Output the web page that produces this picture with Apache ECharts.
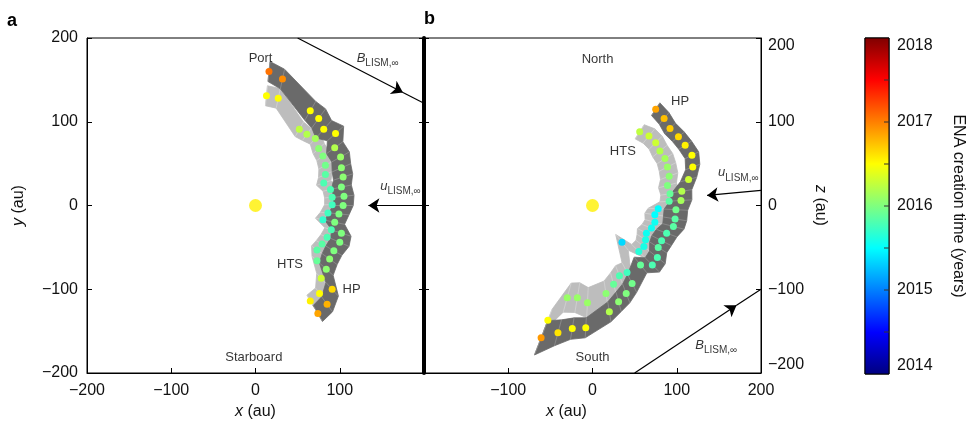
<!DOCTYPE html>
<html><head><meta charset="utf-8">
<script src="https://cdn.jsdelivr.net/npm/echarts@6/dist/echarts.min.js"></script>
<style>html,body{margin:0;padding:0;background:#fff}#c{width:967px;height:427px}</style>
</head><body><div id="c"></div>
<script>
// ---------- data (au, years) ----------
// Panel a (x-y plane)
const aHP_x  = [16,32,65,75,81,95,94,101,102,104,102,105,104,99,94,102,100,93,88,84,91,85,74];
const aHP_y  = [160,151,113,104,91,86,69,58,45,34,22,11,0,-10,-20,-33,-44,-54,-64,-76,-100,-118,-129];
const aHP_t  = [2017.05,2016.95,2016.5,2016.5,2016.5,2016.5,2016.2,2016.1,2016.05,2016.05,2016.0,2016.0,2016.0,2016.0,2016.0,2016.0,2016.0,2016.0,2016.05,2016.05,2016.65,2016.8,2016.85];
const aHP_w  = [12,12,13,14,14,13,12,12,12,12,12,12,12,12,12,12,12,11,11,11,11,11,11];
const aHTS_x = [13,27,52,61,71,75,80,83,83,81,89,91,91,86,80,90,85,79,73,73,78,76,65];
const aHTS_y = [131,128,91,85,80,68,59,48,37,27,19,10,1,-9,-17,-29,-38,-46,-53,-66,-87,-105,-114];
const aHTS_t = [2016.5,2016.5,2016.25,2016.2,2016.15,2016.05,2016.0,2015.95,2015.85,2015.8,2015.8,2015.8,2015.75,2015.75,2015.7,2015.8,2015.8,2015.85,2015.85,2015.9,2016.3,2016.5,2016.55];
const aHTS_w = [12,12,10,9,9,9,9,9,9,9,9,9,9,9,9,8,8,8,8,8,8,8,8];
// Panel b (x-z plane)
const bHP_x  = [75,85,92,102,110,118,119,114,106,105,99,98,96,88,82,78,77,71,57,47,40,31,20,-8,-24,-41,-61];
const bHP_z  = [115,104,92,82,72,60,46,31,17,6,-5,-16,-25,-33,-42,-50,-62,-71,-71,-93,-105,-115,-127,-146,-147,-152,-158];
const bHP_t  = [2016.85,2016.75,2016.7,2016.65,2016.55,2016.5,2016.5,2016.3,2016.2,2016.15,2015.95,2015.85,2015.85,2015.8,2015.8,2015.85,2015.8,2015.8,2015.9,2015.95,2016.0,2016.05,2016.2,2016.5,2016.5,2016.6,2016.9];
const bHP_w  = [9,9,9,9,9,9,9,10,12,13,14,14,13,13,13,12,12,12,12,12,12,12,12,12,13,16,22];
const bHTS_x = [56,67,75,80,86,89,91,89,92,91,78,74,74,70,64,63,61,55,35,41,32,25,16,-6,-18,-30,-53];
const bHTS_z = [88,83,75,65,56,46,35,24,14,5,-4,-11,-20,-27,-33,-41,-49,-55,-44,-80,-84,-94,-105,-116,-110,-110,-137];
const bHTS_t = [2016.25,2016.3,2016.3,2016.2,2016.15,2016.1,2016.05,2016.0,2015.9,2015.85,2015.5,2015.5,2015.55,2015.55,2015.55,2015.6,2015.6,2015.65,2015.35,2015.75,2015.8,2015.9,2016.05,2016.1,2016.1,2016.1,2016.5];
const bHTS_w = [10,11,11,11,11,11,11,11,11,11,12,12,12,12,12,12,12,12,12,13,13,14,15,18,18,18,14];
// Axis ticks / colour scale
const axisTicks = [-200,-100,0,100,200];
const yearTicks = [2014,2015,2016,2017,2018];
// Annotations (text, x, y) per panel
const annA_text = ['Port','Starboard','HTS','HP'];
const annA_x = [6,-2,41,114];
const annA_y = [176,-181,-70,-100];
const annB_text = ['North','South','HTS','HP'];
const annB_x = [6,0,36,104];
const annB_z = [175,-181,64,124];
// Vectors: [start, arrowhead, end]
const BvecA = [[50,200],[175,135],[200,122]];
const uvecA = [[200,0],[134,0]];
const BvecB = [[50,-200],[171,-119],[200,-100]];
const uvecB = [[200,18],[136,12]];

// ---------- build ----------
const FONT = "'Liberation Sans', Arial, Helvetica, sans-serif";
const TXT = '#111';
const JET = ['#00007f','#0000ff','#007fff','#00ffff','#7fff7f','#ffff00','#ff7f00','#ff0000','#7f0000'];
const minus = v => String(v).replace('-', '\u2212');

function ribbon(xs, ys, ws) {
  const outer = [], inner = [];
  for (let i = 0; i < xs.length; i++) {
    const r = Math.hypot(xs[i], ys[i]);
    const ux = xs[i] / r, uy = ys[i] / r;
    outer.push([xs[i] + ux * ws[i], ys[i] + uy * ws[i]]);
    inner.push([xs[i] - ux * ws[i], ys[i] - uy * ws[i]]);
  }
  return {outer, inner};
}
function ribbonSeries(xi, yi, R, fill, lc) {
  return {
    type: 'custom', xAxisIndex: xi, yAxisIndex: yi, clip: true, silent: true, data: [[0, 0]],
    renderItem: (params, api) => {
      const o = R.outer.map(p => api.coord(p));
      const n = R.inner.map(p => api.coord(p));
      const ch = [{type: 'polygon', shape: {points: o.concat(n.slice().reverse())},
        style: {fill: fill, stroke: fill, lineWidth: 0.8}}];
      for (let i = 0; i < o.length; i++) {
        ch.push({type: 'line', shape: {x1: o[i][0], y1: o[i][1], x2: n[i][0], y2: n[i][1]},
          style: {stroke: lc, lineWidth: 0.6}});
      }
      return {type: 'group', children: ch};
    }
  };
}
const pts = (xs, ys, ts) => xs.map((x, i) => [x, ys[i], ts[i]]);
function scatterSeries(xi, yi, data) {
  return {type: 'scatter', xAxisIndex: xi, yAxisIndex: yi, data: data, symbolSize: 7,
    itemStyle: {opacity: 1, borderWidth: 0}, silent: true, z: 5};
}
const richSub = {
  i: {fontFamily: FONT, fontStyle: 'italic', fontSize: 13, color: '#000'},
  s: {fontFamily: FONT, fontSize: 10, color: '#000', padding: [10, 0, 0, 0]}
};
function annSeries(xi, yi, texts, xs, ys, vecLabels) {
  const data = texts.map((t, i) => ({value: [xs[i], ys[i]],
    label: {show: true, position: 'inside', formatter: t, fontFamily: FONT, fontSize: 13, color: '#000'}}));
  vecLabels.forEach(v => data.push({value: v.pos,
    label: {show: true, position: 'right', distance: 0, formatter: v.text, rich: richSub}}));
  return {type: 'scatter', xAxisIndex: xi, yAxisIndex: yi, data: data, symbolSize: 0.1,
    itemStyle: {color: 'rgba(0,0,0,0)'}, silent: true, z: 6};
}
function arrowSeries(xi, yi, segs, head) {
  return {type: 'lines', coordinateSystem: 'cartesian2d', xAxisIndex: xi, yAxisIndex: yi,
    symbol: head ? ['none', 'arrow'] : 'none', symbolSize: [8, 11], silent: true, z: 4,
    lineStyle: {color: '#000', width: 1.2, opacity: 1, curveness: 0},
    data: segs.map(s => ({coords: s}))};
}

const axisBase = {
  min: -200, max: 200, interval: 100, splitLine: {show: false},
  axisLine: {show: true, onZero: false, lineStyle: {color: '#000', width: 1}},
  axisTick: {show: true, inside: true, length: 5, lineStyle: {color: '#000', width: 1}},
  axisLabel: {show: false}
};
const labelStyle = {fontFamily: FONT, fontSize: 16, color: TXT};
const nameStyle = {fontFamily: FONT, fontSize: 16, color: TXT, rich: {i: {fontFamily: FONT, fontSize: 16, fontStyle: 'italic', color: TXT}}};

const gridBase = {show: true, borderColor: '#000', borderWidth: 1, backgroundColor: '#fff', containLabel: false, outerBoundsMode: 'none'};

const option = {
  animation: false,
  backgroundColor: '#fff',
  grid: [
    Object.assign({left: 87, top: 38, width: 337, height: 335}, gridBase),
    Object.assign({left: 424, top: 38, width: 337, height: 335}, gridBase),
    Object.assign({left: 865, top: 38, width: 24, height: 336}, gridBase, {backgroundColor: 'transparent'})
  ],
  xAxis: [
    Object.assign({}, axisBase, {gridIndex: 0, position: 'bottom',
      axisLabel: {show: true, margin: 10, ...labelStyle, formatter: v => v === 200 ? '' : minus(v)},
      name: '{i|x} (au)', nameLocation: 'middle', nameGap: 29, nameTextStyle: nameStyle}),
    Object.assign({}, axisBase, {gridIndex: 1, position: 'bottom',
      axisLabel: {show: true, margin: 10, ...labelStyle, formatter: v => v === -200 ? '' : minus(v)},
      name: '{i|x} (au)', nameLocation: 'middle', nameGap: 29,
      nameTextStyle: Object.assign({}, nameStyle, {padding: [0, 52, 0, 0]})}),
    {gridIndex: 2, type: 'value', min: 0, max: 1, show: false}
  ],
  yAxis: [
    Object.assign({}, axisBase, {gridIndex: 0, position: 'left',
      axisLabel: {show: true, margin: 9, ...labelStyle, formatter: v => minus(v)},
      name: '{i|y} (au)', nameLocation: 'middle', nameRotate: 90, nameGap: 60, nameTextStyle: nameStyle}),
    Object.assign({}, axisBase, {gridIndex: 0, position: 'right',
      axisLine: {show: true, onZero: false, lineStyle: {color: '#000', width: 4}}}),
    Object.assign({}, axisBase, {gridIndex: 1, position: 'left'}),
    Object.assign({}, axisBase, {gridIndex: 1, position: 'right',
      axisLabel: {show: true, margin: 7, ...labelStyle, formatter: v => minus(v),
        verticalAlignMaxLabel: 'top', verticalAlignMinLabel: 'bottom'},
      name: '{i|z} (au)', nameLocation: 'middle', nameRotate: -90, nameGap: 51, nameTextStyle: nameStyle}),
    {gridIndex: 2, type: 'value', position: 'right', min: yearTicks[0], max: yearTicks[yearTicks.length - 1], interval: 1,
      splitLine: {show: false},
      axisLine: {show: false},
      axisTick: {show: false},
      minorTick: {show: false},
      axisLabel: {show: true, margin: 8, ...labelStyle, formatter: v => String(v),
        verticalAlignMaxLabel: 'top', verticalAlignMinLabel: 'bottom'},
      name: 'ENA creation time (years)', nameLocation: 'middle', nameRotate: -90, nameGap: 61,
      nameTextStyle: {fontFamily: FONT, fontSize: 16, color: TXT}}
  ],
  visualMap: {type: 'continuous', show: false, min: 2014, max: 2018, dimension: 2,
    seriesIndex: [4, 5, 6, 7], inRange: {color: JET}},
  graphic: [
    {type: 'text', left: 7, top: 12, style: {text: 'a', font: 'bold 18px ' + FONT, fill: '#000'}},
    {type: 'text', left: 424, top: 10, style: {text: 'b', font: 'bold 18px ' + FONT, fill: '#000'}}
  ],
  series: [
    ribbonSeries(0, 0, ribbon(aHTS_x, aHTS_y, aHTS_w), '#bdbdbd', '#dadada'),
    ribbonSeries(0, 0, ribbon(aHP_x, aHP_y, aHP_w), '#6a6a6a', '#9c9c9c'),
    ribbonSeries(1, 3, ribbon(bHTS_x, bHTS_z, bHTS_w), '#bdbdbd', '#dadada'),
    ribbonSeries(1, 3, ribbon(bHP_x, bHP_z, bHP_w), '#6a6a6a', '#9c9c9c'),
    scatterSeries(0, 0, pts(aHTS_x, aHTS_y, aHTS_t)),
    scatterSeries(0, 0, pts(aHP_x, aHP_y, aHP_t)),
    scatterSeries(1, 3, pts(bHTS_x, bHTS_z, bHTS_t)),
    scatterSeries(1, 3, pts(bHP_x, bHP_z, bHP_t)),
    // Sun
    {type: 'scatter', xAxisIndex: 0, yAxisIndex: 0, data: [[0, 0]], symbolSize: 13, itemStyle: {color: '#fff000'}, silent: true},
    {type: 'scatter', xAxisIndex: 1, yAxisIndex: 3, data: [[0, 0]], symbolSize: 13, itemStyle: {color: '#fff000'}, silent: true},
    // vectors
    arrowSeries(0, 0, [[BvecA[0], BvecA[1]], uvecA], true),
    arrowSeries(0, 0, [[BvecA[1], BvecA[2]]], false),
    arrowSeries(1, 3, [[BvecB[0], BvecB[1]], uvecB], true),
    arrowSeries(1, 3, [[BvecB[1], BvecB[2]]], false),
    // annotations
    annSeries(0, 0, annA_text, annA_x, annA_y, [
      {pos: [120, 176], text: '{i|B}{s|LISM,\u221e}'},
      {pos: [148, 23], text: '{i|u}{s|LISM,\u221e}'}]),
    annSeries(1, 3, annB_text, annB_x, annB_z, [
      {pos: [122, -167], text: '{i|B}{s|LISM,\u221e}'},
      {pos: [149, 39], text: '{i|u}{s|LISM,\u221e}'}]),
    // colour bar with its inward ticks on the right edge
    {type: 'custom', xAxisIndex: 2, yAxisIndex: 4, silent: true, data: [[0, 2014]], z: 3,
      renderItem: (params, api) => {
        const top = yearTicks[yearTicks.length - 1], bot = yearTicks[0];
        const p0 = api.coord([0, top]);
        const p1 = api.coord([1, bot]);
        const stops = JET.slice().reverse().map((c, i) => ({offset: i / (JET.length - 1), color: c}));
        const ch = [{type: 'rect', shape: {x: p0[0], y: p0[1], width: p1[0] - p0[0], height: p1[1] - p0[1]},
          style: {fill: new echarts.graphic.LinearGradient(0, 0, 0, 1, stops), stroke: '#000', lineWidth: 1}}];
        for (let v = bot + 0.5; v < top; v += 0.5) {
          const q = api.coord([1, v]);
          ch.push({type: 'line', shape: {x1: q[0] - 5, y1: q[1], x2: q[0], y2: q[1]},
            style: {stroke: '#333', lineWidth: 1}});
        }
        return {type: 'group', children: ch};
      }}
  ]
};
const chart = echarts.init(document.getElementById('c'), null, {renderer: 'canvas'});
chart.setOption(option);
</script>
</body></html>
